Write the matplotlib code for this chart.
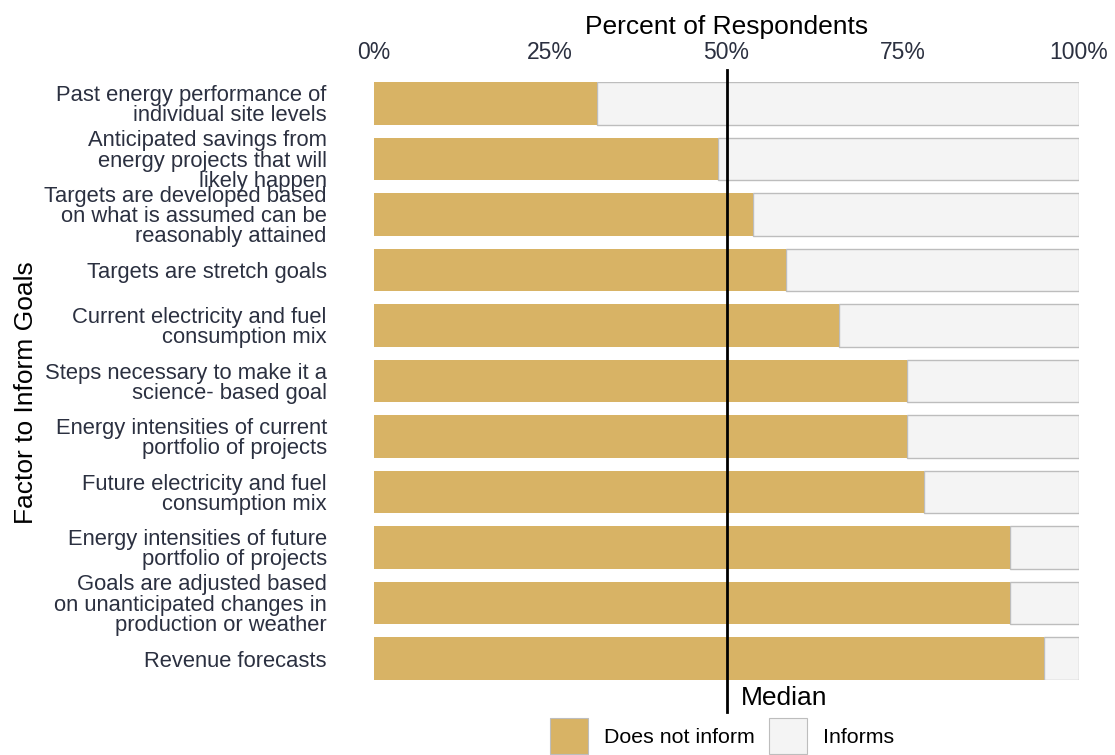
import matplotlib
matplotlib.use("Agg")
import matplotlib.pyplot as plt
from matplotlib.patches import Patch
import numpy as np

plt.rcParams['font.family'] = ['Liberation Sans', 'DejaVu Sans']

categories = [
    "Past energy performance of\nindividual site levels",
    "Anticipated savings from\nenergy projects that will\nlikely happen",
    "Targets are developed based\non what is assumed can be\nreasonably attained",
    "Targets are stretch goals",
    "Current electricity and fuel\nconsumption mix",
    "Steps necessary to make it a\nscience- based goal",
    "Energy intensities of current\nportfolio of projects",
    "Future electricity and fuel\nconsumption mix",
    "Energy intensities of future\nportfolio of projects",
    "Goals are adjusted based\non unanticipated changes in\nproduction or weather",
    "Revenue forecasts",
]
does_not_inform = [31.7, 48.8, 53.7, 58.5, 65.9, 75.6, 75.6, 78.0, 90.2, 90.2, 95.1]
informs = [100 - v for v in does_not_inform]
median_value = 50
xticks = [0, 25, 50, 75, 100]
xtick_labels = ["0%", "25%", "50%", "75%", "100%"]

gold = "#D8B365"
light = "#F4F4F4"
edge = "#BDBDBD"
label_color = "#2B3040"

fig = plt.figure(figsize=(11.15, 7.55), dpi=100)
ax = fig.add_axes([374/1115, 1 - 680/755, 705/1115, 598/755])

y = np.arange(len(categories))
h = 0.77
ax.barh(y, informs, left=does_not_inform, height=h, color=light, edgecolor=edge, linewidth=1.0)
ax.barh(y, does_not_inform, height=h, color=gold, edgecolor="none", linewidth=0)

ax.set_ylim(len(categories) - 1 + h/2, -h/2)
ax.set_xlim(0, 100)

ax.xaxis.tick_top()
ax.xaxis.set_label_position('top')
ax.set_xticks(xticks)
ax.set_xticklabels(xtick_labels, fontsize=16.5, color=label_color)
ax.tick_params(axis='x', length=0, pad=13)
ax.set_xlabel("Percent of Respondents", fontsize=19, color="black", labelpad=5)

ax.set_yticks(y)
ax.set_yticklabels(categories, fontsize=15.8, color=label_color, linespacing=0.95)
ax.tick_params(axis='y', length=0, pad=34)
ax.set_ylabel("Factor to Inform Goals", fontsize=19, color="black")
ax.yaxis.set_label_coords(-0.4766, 0.48)

for s in ax.spines.values():
    s.set_visible(False)

ax.axvline(median_value, ymin=-0.0535, ymax=1.02, color="black", linewidth=2, clip_on=False, zorder=5)
ax.text(median_value + 2, -0.03, "Median", transform=ax.get_xaxis_transform(), fontsize=19,
        color="black", ha="left", va="center")

handles = [Patch(facecolor=gold, edgecolor=edge, linewidth=0.8, label="Does not inform"),
           Patch(facecolor=light, edgecolor=edge, linewidth=0.8, label="Informs")]
fig.legend(handles=handles, loc="upper center", bbox_to_anchor=(722/1115, 1 - 718/755), ncol=2,
           frameon=False, fontsize=15.4, handlelength=1.78, handleheight=2.2, columnspacing=0.65,
           handletextpad=0.75, borderpad=0, borderaxespad=0)

fig.savefig("out.png", dpi=100)
